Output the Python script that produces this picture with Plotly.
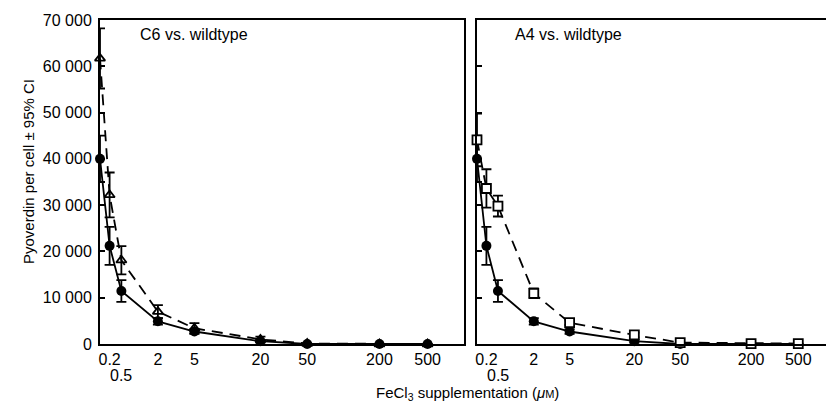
import math
import plotly.graph_objects as go

# ---- data ----
conc = [0, 0.2, 0.5, 2, 5, 20, 50, 200, 500]
x_tick_values = [0.2, 2, 5, 20, 50, 200, 500]
x_tick_labels = ["0.2", "2", "5", "20", "50", "200", "500"]
x_extra_value = 0.5
x_extra_label = "0.5"

wildtype = [40000, 21200, 11450, 4900, 2700, 600, 0, 0, 0]
wildtype_ci = [5000, 4100, 2350, 700, 500, 300, 0, 0, 0]

c6 = [61700, 32200, 18100, 7000, 3400, 1000, 100, 0, 0]
c6_ci = [6500, 4850, 3050, 1400, 1100, 600, 0, 0, 0]

a4 = [44100, 33600, 29800, 10950, 4600, 1950, 300, 100, 100]
a4_ci = [5700, 4150, 2250, 1050, 500, 500, 0, 0, 0]

y_tick_values = [0, 10000, 20000, 30000, 40000, 50000, 60000, 70000]
y_tick_labels = ["0", "10 000", "20 000", "30 000", "40 000", "50 000", "60 000", "70 000"]


def tx(v):
    return math.log10(v + 1)


xs = [tx(v) for v in conc]
FONT = "Liberation Sans, Arial, sans-serif"
OFF = 8  # page body margin
W, H = 834 - OFF, 405 - OFF
TOP, BOT = 20 - OFF, 344 - OFF
MT, MB = TOP, H - BOT
PH = BOT - TOP


def px(x):
    return (x - OFF) / W


def py(y):
    return 1 - ((y - OFF) - TOP) / PH


fig = go.Figure()


def err(vals):
    return dict(type="data", array=vals, visible=True, color="black",
                thickness=1.8, width=5)


DASH = "11px,7px"

# left panel: C6 (dashed, open triangles) then wildtype on top
fig.add_trace(go.Scatter(
    x=xs, y=c6, error_y=err(c6_ci), mode="lines+markers",
    line=dict(color="black", width=1.8, dash=DASH),
    marker=dict(symbol="triangle-up-open", size=9, color="black", line=dict(width=1.8)),
    cliponaxis=False, xaxis="x", yaxis="y", showlegend=False))
fig.add_trace(go.Scatter(
    x=xs, y=wildtype, error_y=err(wildtype_ci), mode="lines+markers",
    line=dict(color="black", width=1.8),
    marker=dict(symbol="circle", size=10, color="black"),
    cliponaxis=False, xaxis="x", yaxis="y", showlegend=False))

# right panel: wildtype then A4 (dashed, open squares)
fig.add_trace(go.Scatter(
    x=xs, y=wildtype, error_y=err(wildtype_ci), mode="lines+markers",
    line=dict(color="black", width=1.8),
    marker=dict(symbol="circle", size=10, color="black"),
    cliponaxis=False, xaxis="x2", yaxis="y2", showlegend=False))
fig.add_trace(go.Scatter(
    x=xs, y=a4, error_y=err(a4_ci), mode="lines+markers",
    line=dict(color="black", width=1.8, dash=DASH),
    marker=dict(symbol="square", size=9, color="white", line=dict(color="black", width=1.8)),
    cliponaxis=False, xaxis="x2", yaxis="y2", showlegend=False))

left_dom = [px(100), px(464)]
right_dom = [px(477), 1.0]

xcommon = dict(range=[0, 3.0], tickvals=[tx(v) for v in x_tick_values],
               ticktext=x_tick_labels, ticks="", showgrid=False, zeroline=False,
               showline=True, linecolor="black", linewidth=2, tickangle=0,
               tickfont=dict(family=FONT, size=16, color="black"),
               ticklabelstandoff=0)
ycommon = dict(range=[0, 70000], tickvals=y_tick_values, ticks="inside",
               ticklen=5, tickwidth=1.8, tickcolor="black", showgrid=False,
               zeroline=False, showline=True, linecolor="black", linewidth=2,
               tickfont=dict(family=FONT, size=16, color="black"))

annots = [
    dict(text="C6 vs. wildtype", x=px(138), y=py(35),
         xref="paper", yref="paper", xanchor="left", yanchor="middle",
         showarrow=False, font=dict(family=FONT, size=16, color="black")),
    dict(text="A4 vs. wildtype", x=px(513), y=py(35),
         xref="paper", yref="paper", xanchor="left", yanchor="middle",
         showarrow=False, font=dict(family=FONT, size=16, color="black")),
    dict(text="Pyoverdin per cell ± 95% CI", x=px(28), y=py(172),
         xref="paper", yref="paper", xanchor="center", yanchor="middle",
         textangle=-90, showarrow=False,
         font=dict(family=FONT, size=15, color="black")),
    dict(text="FeCl<sub>3</sub> supplementation (<i>μ</i><span style='font-size:11px'>M</span>)",
         x=px(467), y=py(393), xref="paper", yref="paper",
         xanchor="center", yanchor="middle", showarrow=False,
         font=dict(family=FONT, size=15, color="black")),
]
for xr in ("x", "x2"):
    annots.append(dict(text=x_extra_label, x=tx(x_extra_value), y=py(375),
                       xref=xr, yref="paper", xanchor="center", yanchor="middle",
                       showarrow=False, font=dict(family=FONT, size=16, color="black")))

fig.update_layout(
    width=W, height=H,
    margin=dict(l=0, r=0, t=MT, b=MB, autoexpand=False),
    paper_bgcolor="white", plot_bgcolor="white",
    xaxis=dict(domain=left_dom, anchor="y", mirror=True, **xcommon),
    yaxis=dict(domain=[0, 1], anchor="x", mirror=True, ticktext=y_tick_labels,
               ticklabelstandoff=3, **ycommon),
    xaxis2=dict(domain=right_dom, anchor="y2", mirror=True, **xcommon),
    yaxis2=dict(domain=[0, 1], anchor="x2", mirror=False, showticklabels=False,
                **ycommon),
    annotations=annots,
)

fig.write_html("out.html")
